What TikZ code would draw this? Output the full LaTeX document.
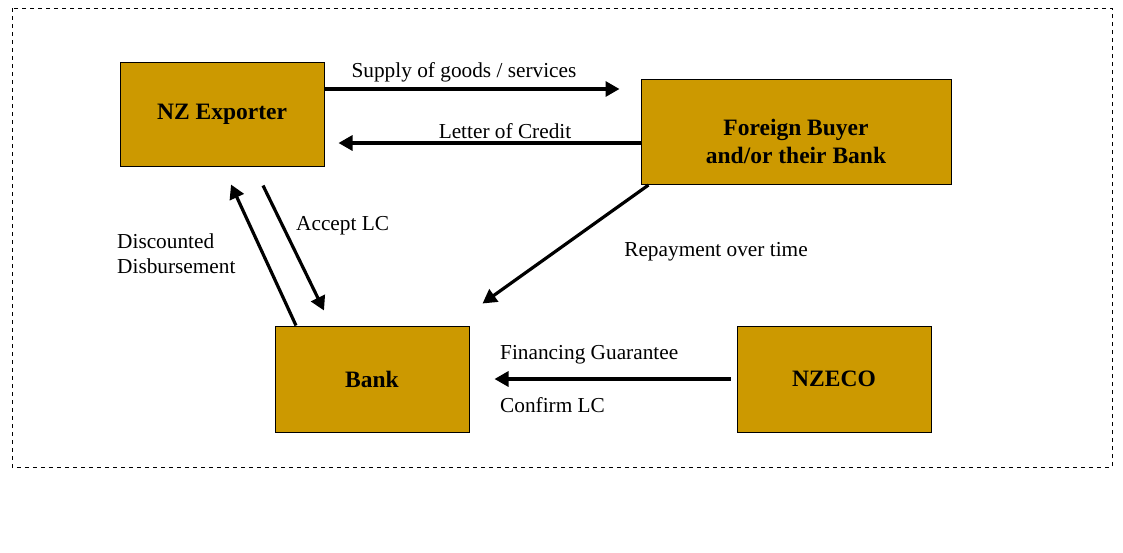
\documentclass[tikz,border=0pt]{standalone}
\usepackage{fontspec}
\setmainfont{Liberation Serif}
\usetikzlibrary{arrows.meta}
\definecolor{boxgold}{RGB}{204,153,0}
\tikzstyle{party} = [rectangle,fill=boxgold,draw=black,line width=1pt,inner sep=0pt,align=center,font=\fontsize{23.5}{28}\selectfont\bfseries]
\tikzstyle{flow} = [line width=3.2pt,-{Triangle[length=14pt,width=15pt]}]
\tikzstyle{lbl} = [inner sep=0pt,align=left,font=\fontsize{21.3}{25}\selectfont]

\begin{document}
\begin{tikzpicture}[x=1pt,y=-1pt]
\useasboundingbox (0,0) rectangle (1123,552);
\draw[dashed, line width=1pt, dash pattern=on 4pt off 4pt] (12,8) rectangle (1112,467);

% Define nodes
\node[party, minimum width=204pt, minimum height=104pt] (exporter) at (222,114) {NZ Exporter};
\node[party, minimum width=310pt, minimum height=105pt] (buyer)    at (796,132)
  {\raisebox{-12pt}[\height][\depth]{\begin{tabular}{@{}c@{}}Foreign Buyer\\and/or their Bank\end{tabular}}};
\node[party, minimum width=194pt, minimum height=106pt] (bank)     at (372,379) {Bank};
\node[party, minimum width=194pt, minimum height=106pt] (nzeco)    at (834,379) {NZECO};

% Labels
\node[lbl]              (supply)  at (464,72)  {Supply of goods / services};
\node[lbl]              (credit)  at (505,131) {Letter of Credit};
\node[lbl, anchor=west] (accept)  at (296,226) {Accept LC};
\node[lbl, anchor=west] (disc)    at (117,254) {Discounted\\Disbursement};
\node[lbl]              (repay)   at (716,252) {Repayment over time};
\node[lbl, anchor=west] (guar)    at (500,355) {Financing Guarantee};
\node[lbl, anchor=west] (confirm) at (500,405) {Confirm LC};

% Edges
\draw[flow, shorten >=21pt] ([yshift=25pt]exporter.east) -- ([yshift=25pt]exporter.east -| buyer.west);
\draw[flow, shorten >=14pt] ([yshift=-11pt]buyer.west) -- ([yshift=-11pt]buyer.west -| exporter.east);
\draw[flow] ([xshift=41pt,yshift=-19pt]exporter.south) -- ([xshift=-48pt,yshift=15pt]bank.north);
\draw[flow] ([xshift=-76pt]bank.north) -- ([xshift=9pt,yshift=-18pt]exporter.south);
\draw[flow] ([xshift=8pt]buyer.south west) -- ([xshift=13pt,yshift=22pt]bank.north east);
\draw[flow] ([xshift=-6pt]nzeco.west) -- ([xshift=25pt]bank.east);

\end{tikzpicture}
\end{document}
